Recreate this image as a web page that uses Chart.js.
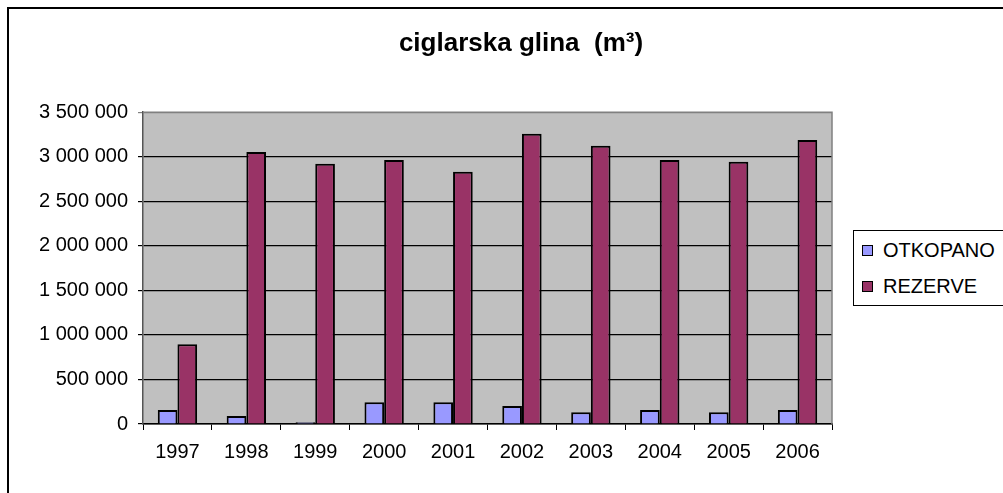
<!DOCTYPE html>
<html>
<head>
<meta charset="utf-8">
<title>ciglarska glina</title>
<script src="https://cdn.jsdelivr.net/npm/chart.js@4/dist/chart.umd.min.js"></script>
<style>
  html, body { margin: 0; padding: 0; background: #fff; overflow: hidden; }
  #frame { position: absolute; left: 7px; top: 7px; width: 1100px; height: 600px; border: 2px solid #000; }
  #wrap { position: absolute; left: 0; top: 0; width: 1003px; height: 493px; }
  #legenda {
    position: absolute; left: 853px; top: 230px; width: 200px; height: 74px;
    border: 1.5px solid #000; background: #fff;
    font-family: "Liberation Sans", Arial, sans-serif; font-size: 20px; color: #000;
  }
  .stavka { position: absolute; left: 8px; height: 24px; line-height: 24px; white-space: nowrap; }
  .stavka i { display: inline-block; width: 9px; height: 9px; border: 1.5px solid #000; margin-right: 10px; vertical-align: 1px; }
</style>
</head>
<body>
<div id="frame"></div>
<div id="wrap"><canvas id="grafikon" width="1003" height="493"></canvas></div>
<div id="legenda"></div>
<script>
/* ciglarska glina — otkopano i rezerve po godinama */

const godine = ["1997", "1998", "1999", "2000", "2001", "2002", "2003", "2004", "2005", "2006"];
const otkopano = [157000, 90000, 20000, 244000, 244000, 202000, 131000, 157000, 131000, 157000];
const rezerve = [895000, 3053000, 2921000, 2963000, 2831000, 3258000, 3124000, 2963000, 2944000, 3188000];
const yTicks = [0, 500000, 1000000, 1500000, 2000000, 2500000, 3000000, 3500000];

const fmtBroj = (n) => String(n).replace(/\B(?=(\d{3})+(?!\d))/g, " ");
const font = "'Liberation Sans', Arial, sans-serif";

const pozadina = {
  id: "pozadina",
  beforeDraw(chart) {
    const { ctx, chartArea: a } = chart;
    ctx.save();
    ctx.fillStyle = "#c0c0c0";
    ctx.fillRect(a.left, a.top, a.right - a.left, a.bottom - a.top);
    ctx.restore();
  },
  afterDatasetsDraw(chart) {
    const { ctx, chartArea: a } = chart;
    ctx.save();
    ctx.strokeStyle = "#808080";
    ctx.lineWidth = 1.5;
    ctx.beginPath();
    ctx.moveTo(a.left, a.top);
    ctx.lineTo(a.right, a.top);
    ctx.lineTo(a.right, a.bottom);
    ctx.stroke();
    ctx.restore();
  },
};

const chart = new Chart(document.getElementById("grafikon"), {
  type: "bar",
  data: {
    labels: godine,
    datasets: [
      { label: "OTKOPANO", data: otkopano, backgroundColor: "#9999ff", borderColor: "#000", borderWidth: 2 },
      { label: "REZERVE", data: rezerve, backgroundColor: "#993366", borderColor: "#000", borderWidth: 2 },
    ],
  },
  options: {
    responsive: false,
    animation: false,
    layout: { padding: { left: 39, right: 0, top: 0, bottom: 0 } },
    datasets: { bar: { categoryPercentage: 0.571, barPercentage: 1.0 } },
    plugins: {
      legend: { display: false },
      tooltip: { enabled: false },
      title: {
        display: true,
        text: "ciglarska glina  (m³)",
        color: "#000",
        font: { family: font, size: 26, weight: "bold", lineHeight: 1.2 },
        padding: { top: 28, bottom: 53 },
      },
    },
    scales: {
      x: {
        afterFit(scale) { scale.height = 69; },
        grid: { display: true, drawOnChartArea: false, drawTicks: true, tickLength: 6, color: "#000", offset: true },
        border: { color: "#000", width: 1.5 },
        ticks: { color: "#000", font: { family: font, size: 20 }, padding: 10, maxRotation: 0 },
      },
      y: {
        min: 0,
        max: 3500000,
        afterFit(scale) { scale.width = 104; },
        afterBuildTicks(scale) { scale.ticks = yTicks.map((v) => ({ value: v })); },
        grid: {
          color: (c) => (c.tick && c.tick.value === 3500000 ? "#808080" : "#000"),
          lineWidth: 1.2,
          tickLength: 5,
        },
        border: { color: "#555", width: 1.5 },
        ticks: { color: "#000", font: { family: font, size: 20 }, padding: 10, callback: (v) => fmtBroj(v) },
      },
      // prazan prostor desno za legendu
      desno: {
        type: "linear",
        position: "right",
        display: true,
        afterFit(scale) { scale.width = 171; },
        grid: { display: false },
        border: { display: false },
        ticks: { display: false },
      },
    },
  },
  plugins: [pozadina],
});

document.getElementById("legenda").innerHTML = chart.data.datasets
  .map((d, i) => `<div class="stavka" style="top:${7 + i * 36}px"><i style="background:${d.backgroundColor}"></i>${d.label}</div>`)
  .join("");
</script>
</body>
</html>
